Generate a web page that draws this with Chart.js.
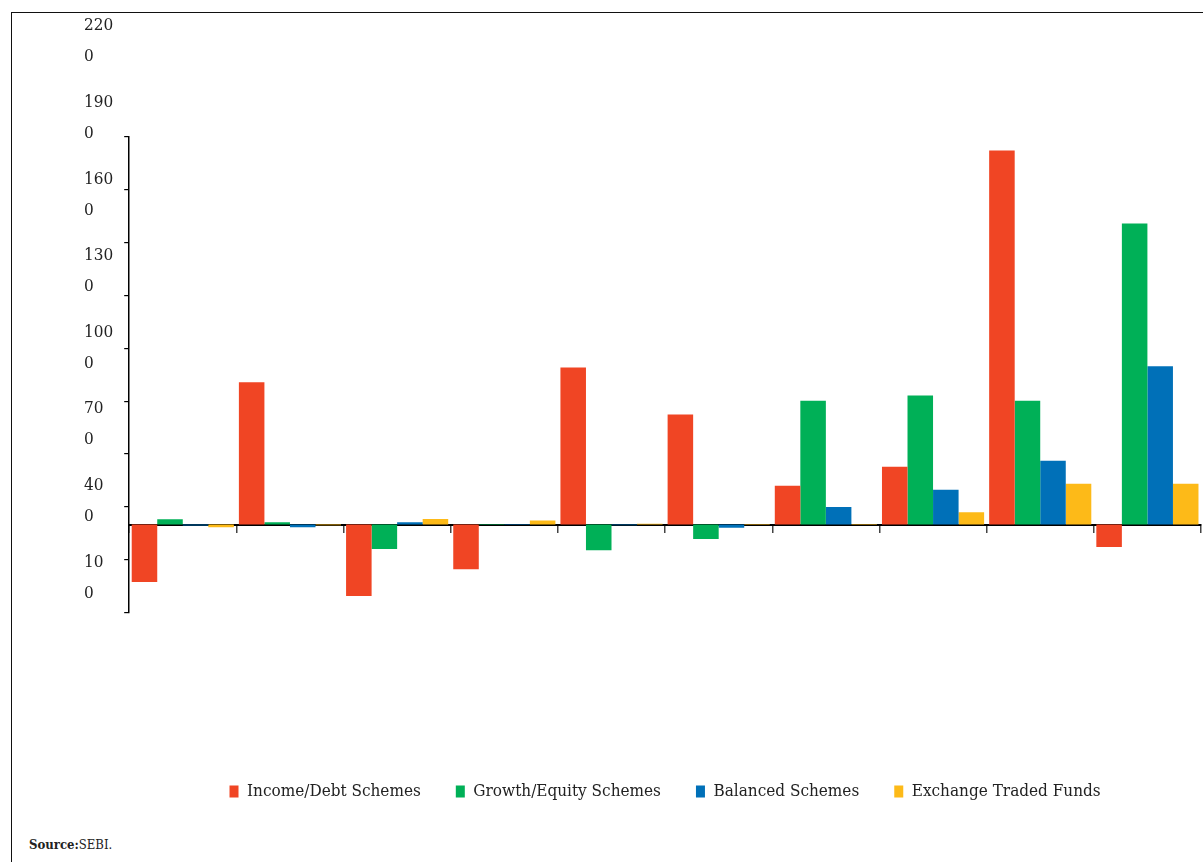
<!DOCTYPE html>
<html>
<head>
<meta charset="utf-8">
<script src="https://cdn.jsdelivr.net/npm/chart.js@4.4.0/dist/chart.umd.min.js"></script>
<style>
  html, body { margin: 0; padding: 0; background: #fff; }
  body { width: 1203px; height: 862px; position: relative; overflow: hidden; }
  .frame { position: absolute; left: 11px; top: 12px; width: 1200px; height: 860px;
           border-left: 1.5px solid #111; border-top: 1.5px solid #111; }
  .chart-box { position: absolute; left: 12px; top: 13px; width: 1191px; height: 800px; }
  .source { position: absolute; left: 29px; top: 837px; font-size: 13px; color: #222;
            font-family: 'DejaVu Serif Condensed', 'DejaVu Serif', serif; }
</style>
</head>
<body>
<div class="frame"></div>
<div class="chart-box"><canvas id="myChart"></canvas></div>
<div class="source"><b>Source:</b>SEBI.</div>
<script>
// periods along the x axis (no labels are printed in the source figure)
const periods = ['1', '2', '3', '4', '5', '6', '7', '8', '9', '10'];

const incomeDebt = [-326, 807, -406, -254, 892, 625, 220, 328, 2124, -127];
const growthEquity = [30, 13, -139, 3, -146, -82, 703, 732, 703, 1709];
const balanced = [-5, -15, 13, 3, -4, -19, 100, 197, 362, 898];
const etf = [-15, -4, 32, 23, 4, 3, 3, 70, 231, 231];

// tick marks on the value axis, and the (misplaced, wrapped) labels printed beside it
const yTicks = [-500, -200, 100, 400, 700, 1000, 1300, 1600, 1900, 2200];
const yLabels = [2200, 1900, 1600, 1300, 1000, 700, 400, 100];

const serif = "'DejaVu Serif Condensed', 'DejaVu Serif', serif";
Chart.defaults.font.family = serif;
Chart.defaults.color = '#222';

const series = [
  { label: 'Income/Debt Schemes', data: incomeDebt, color: '#F04524' },
  { label: 'Growth/Equity Schemes', data: growthEquity, color: '#00B057' },
  { label: 'Balanced Schemes', data: balanced, color: '#0070B8' },
  { label: 'Exchange Traded Funds', data: etf, color: '#FDBA18' },
];

const chart = document.querySelector('#myChart');
new Chart(chart, {
  type: 'bar',
  data: {
    labels: periods,
    datasets: series.map(s => ({
      label: s.label,
      data: s.data,
      backgroundColor: s.color,
      yAxisID: 'y',
    })),
  },
  options: {
    responsive: true,
    maintainAspectRatio: false,
    animation: false,
    datasets: { bar: { categoryPercentage: 0.953, barPercentage: 1 } },
    layout: { padding: { left: 72, top: 124, right: 2, bottom: 3 } },
    scales: {
      x: {
        position: { y: 0 },
        z: 1,
        grid: { drawOnChartArea: false, tickLength: 7, color: '#444', lineWidth: 1.5 },
        border: { color: '#000', width: 2 },
        ticks: { display: false },
      },
      y: {
        type: 'linear',
        min: -500,
        max: 2200,
        weight: 0,
        afterBuildTicks: s => { s.ticks = yTicks.map(v => ({ value: v })); },
        grid: { drawOnChartArea: false, tickLength: 5, color: '#000', lineWidth: 1.2 },
        border: { color: '#000', width: 1.5 },
        ticks: { display: false },
      },
      yLab: {
        type: 'linear',
        position: 'left',
        weight: 1,
        min: -37,
        max: 1826,
        afterBuildTicks: s => { s.ticks = yLabels.map(v => ({ value: v })); },
        grid: { display: false, drawTicks: false },
        border: { display: false },
        ticks: {
          autoSkip: false,
          crossAlign: 'far',
          padding: 5.5,
          color: '#222',
          font: { size: 17, lineHeight: '31px' },
          callback: v => {
            const s = String(v);
            return [s.slice(0, -1), s.slice(-1)];
          },
        },
      },
    },
    plugins: {
      legend: {
        position: 'bottom',
        fullSize: false,
        title: { display: true, text: ' ', padding: 60.5, font: { size: 12 } },
        labels: {
          boxWidth: 9,
          boxHeight: 12,
          padding: 35,
          color: '#222',
          font: { size: 17 },
        },
      },
      tooltip: { enabled: false },
    },
  },
});
</script>
</body>
</html>
